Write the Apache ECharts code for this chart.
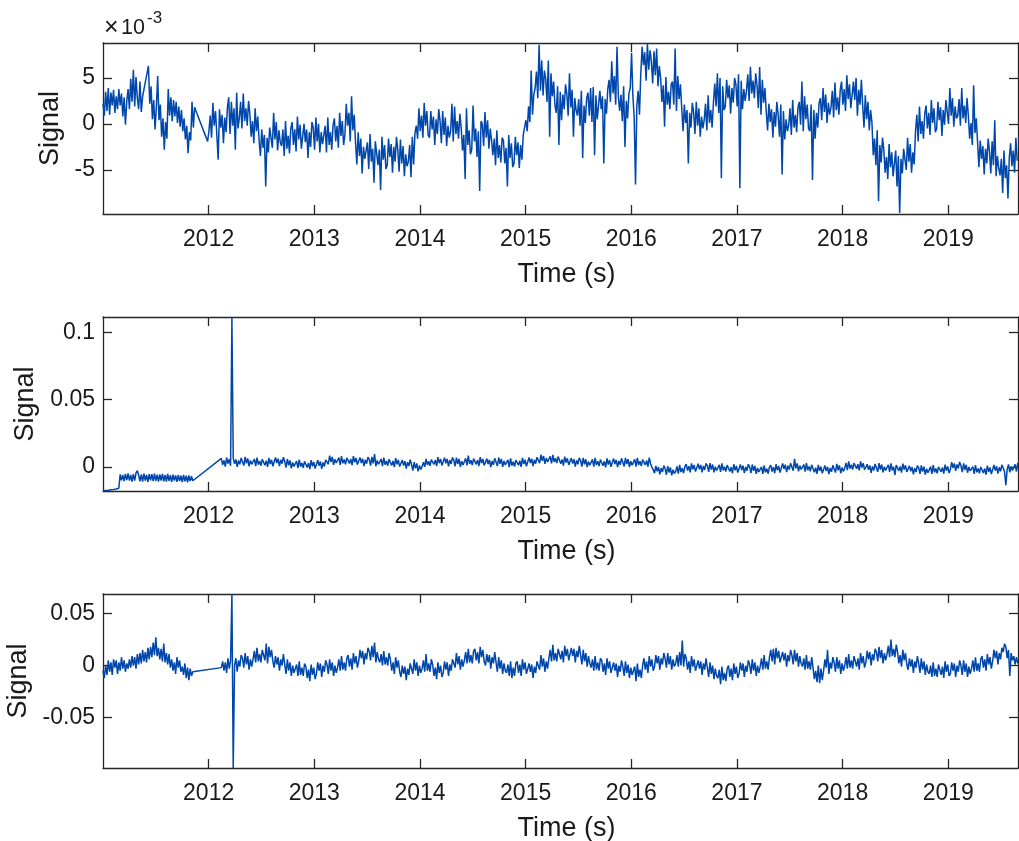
<!DOCTYPE html>
<html>
<head>
<meta charset="utf-8">
<script src="https://cdn.jsdelivr.net/npm/echarts@6/dist/echarts.min.js"></script>
<style>
html,body{margin:0;padding:0;background:#fff;}
#chart{width:1019px;height:841px;}
</style>
</head>
<body>
<div id="chart"></div>
<script>
// ---------------- DATA (all signal values in units of 1e-3) ----------------
const STEP = 0.0125; // sampling step in years
const xTicks = [2012, 2013, 2014, 2015, 2016, 2017, 2018, 2019];
const xMin = 2011.0, xMax = 2019.66;

// Panel 1
const p1Ticks = [-5, 0, 5];
const p1Range = [-9.8, 8.8];
const p1Seg1Start = 2011.0;
const p1Seg1 = [2.2,0.9,3.5,1.4,3.9,1.0,3.4,2.0,3.7,1.2,3.0,1.6,3.8,2.0,3.3,0.8,2.9,-0.1,2.5,3.8,1.6,4.9,2.4,5.9,1.9,5.1,2.8,1.6,4.6,1.3,3.0];
const p1Seg2Start = 2011.43;
const p1Seg2 = [6.3,2.2,4.1,0.5,2.6,-0.6,1.8,5.2,0.4,2.1,-1.4,0.6,-2.8,0.2,-1.6,3.8,0.9,2.9,0.3,2.6,0.8,2.4,0.1,1.9,-0.3,1.5,-0.8,0.6,-1.7,-0.2,-3.2,-0.9,-1.8,2.4,-0.4,1.8,1.4];
const p1Seg3Start = 2011.99;
const p1Seg3 = [
-1.9,-0.8,0.9,-1.5,2.3,-0.2,1.4,-1.2,  -3.9,1.6,-0.4,1.0,-2.1,0.7,-0.9,1.8,  2.9,-1.1,2.4,-0.2,1.7,-2.8,3.4,-0.5,  0.6,2.4,-0.5,3.3,0.3,1.7,-0.2,2.5,
1.1,-1.4,0.3,-2.1,1.7,-0.8,0.8,-1.8,  -3.5,-0.6,-2.6,-1.2,-6.8,-1.5,-3.1,-0.4,  -0.2,-2.6,1.2,-1.7,0.2,-2.9,-0.7,-2.0,  -2.4,-0.6,-3.5,0.3,-2.7,-1.3,-3.2,-0.5,
0.2,-2.3,-0.6,-3.0,0.8,-1.7,-0.1,-2.7,  -2.9,0.0,-2.0,-0.6,-3.7,-0.9,-2.5,0.2,  -0.4,-2.8,0.7,-1.9,0.0,-3.1,-0.9,-2.2,  -2.0,-0.2,-3.1,0.7,-2.3,-0.9,-2.8,-0.1,
0.6,-1.9,-0.2,-2.6,1.2,-1.3,0.3,-2.3,  -1.1,2.2,-0.2,1.2,-1.9,3.0,-0.7,1.0,  -2.0,-4.4,-0.9,-3.5,-1.6,-5.4,-2.5,-3.8,  -3.8,-2.0,-4.9,-1.1,-4.1,-2.7,-6.4,-1.9,
-2.0,-4.5,-2.8,-7.2,-1.4,-3.9,-2.3,-4.9,  -4.5,-1.6,-3.6,-2.2,-5.3,-2.5,-4.1,-1.4,  -2.8,-5.2,-1.7,-4.3,-2.4,-5.7,-3.3,-4.6,  -4.1,-2.3,-5.8,-1.4,-4.4,-1.0,-0.2,-1.6,
1.7,-0.8,0.9,-1.5,2.3,-0.2,1.4,-1.2,  -1.5,1.4,-0.6,0.8,-2.3,0.5,-1.1,1.6,  0.3,-2.1,1.4,-1.2,0.7,-2.4,-0.2,-1.5,  -0.8,2.2,-1.9,1.9,-1.1,0.3,-1.6,1.1,
-0.4,-2.9,-1.2,-6.0,1.7,-2.3,-0.7,-3.3,  -2.8,2.0,-1.9,-0.5,-3.6,-0.8,-7.3,0.3,  0.0,-2.4,1.3,-1.5,0.4,-2.7,-0.5,-1.8,  -3.4,-1.6,-4.5,-0.7,-3.7,-2.3,-4.2,-1.5,
-1.8,-4.3,-2.6,-6.8,-1.2,-3.7,-2.1,-4.7,  -4.3,-1.4,-3.4,-2.0,-4.8,-2.3,-3.9,-1.2,  -1.4,0.4,-0.8,1.9,0.2,5.8,1.0,3.2,  3.9,5.7,2.8,8.6,3.6,6.9,3.1,5.8,
4.9,2.4,6.9,-1.4,5.5,3.0,4.6,2.0,  1.2,4.1,-2.3,3.5,0.4,3.2,1.6,4.3,  3.3,0.9,5.5,1.8,3.7,-1.4,2.8,1.5,  0.9,2.7,-0.2,3.6,-3.7,2.0,0.1,2.8,
3.4,0.9,3.9,0.2,4.0,-3.4,3.1,0.5,  0.7,3.6,1.6,3.0,-4.3,2.7,1.1,3.8,  4.8,2.4,6.8,3.3,5.2,2.1,8.4,3.0,  1.4,3.2,0.3,4.1,-2.5,2.5,0.6,3.3,
3.9,7.7,3.1,0.7,-6.6,2.0,3.6,1.0,  5.5,8.4,6.4,7.8,4.7,8.7,5.9,8.0,  6.8,4.4,7.9,5.3,8.2,4.1,6.3,5.0,  2.4,4.2,-0.3,5.1,2.1,3.5,1.6,4.3,
4.6,2.1,8.2,1.4,5.2,2.7,4.3,1.7,  -0.8,2.1,0.1,1.5,-4.3,1.2,-0.4,2.3,  1.3,-1.1,2.4,-0.2,1.7,-1.4,0.8,-0.5,  0.4,2.2,-0.7,3.1,0.1,1.5,-0.4,2.3,
4.4,1.9,5.5,1.2,5.0,-5.9,4.1,1.5,  1.9,4.8,2.8,4.2,1.1,3.9,2.3,5.0,  4.3,1.9,5.4,-7.0,4.7,1.6,3.8,2.5,  3.6,5.4,2.5,6.2,3.3,4.7,2.8,5.5,
4.2,1.7,6.2,1.0,4.8,2.3,3.9,1.3,  -0.7,2.2,0.2,1.6,-1.5,1.3,-0.3,2.4,  1.0,-1.4,2.1,-5.5,1.4,-1.7,0.5,-0.8,  -0.1,1.7,-1.2,2.6,-0.4,1.0,-0.9,1.8,
2.4,-0.1,4.6,-0.8,3.0,0.5,2.1,-0.5,  -0.8,2.1,-6.1,1.5,-1.6,1.2,-0.4,2.3,  2.8,0.4,3.9,1.3,3.2,0.1,2.3,1.0,  1.8,3.6,0.7,4.5,1.5,2.9,1.0,3.7,
4.6,2.1,3.8,1.4,5.3,2.7,4.3,1.7,  1.7,4.6,2.6,5.0,0.9,3.7,2.1,4.8,  2.0,-0.4,3.1,0.5,2.4,-0.7,1.5,0.2,  -3.4,-1.6,-4.5,-0.7,-8.4,-2.3,-4.2,-1.5,
-2.8,-5.3,-3.6,-6.0,-2.2,-4.7,-3.1,-5.7,  -5.8,-2.9,-6.8,-3.5,-9.7,-3.8,-5.4,-2.7,  -2.6,-5.0,-1.5,-4.1,-2.2,-5.3,-3.1,-4.4,  -0.8,1.0,-1.9,1.9,-1.1,0.3,-1.6,1.1,
2.0,-0.5,1.2,-1.2,2.6,0.1,1.7,-0.9,  -0.5,2.4,0.4,1.8,-1.3,1.5,-0.1,2.6,  2.4,0.0,3.9,0.9,2.8,-0.3,1.9,0.6,  0.9,2.7,-0.2,3.9,0.6,2.0,0.1,2.8,
0.9,-1.6,0.1,-2.3,4.2,-1.0,0.6,-2.0,  -4.7,-1.8,-3.8,-2.4,-5.5,-2.7,-4.3,-1.6,  -3.0,-5.4,-1.9,-4.5,0.4,-5.7,-3.5,-4.8,  -5.6,-3.8,-7.5,-2.9,-5.9,-4.5,-8.1,-3.7,
-2.1,-4.6,-2.9,-5.3,-1.5,-4.0
];

// Panel 2
const p2Ticks = [0, 50, 100];
const p2Range = [-17.9, 111.5];
const p2Seg1Start = 2011.0;
const p2Seg1 = [-17.8,-17.2,-17.6,-16.8,-17.4,-16.6,-17.0,-16.2,-16.8,-15.8,-16.4,-15.4,-15.8,
-5.5,-10.0,-6.0,-10.5,-5.2,-9.8,-4.8,-10.2,  -6.0,-11.0,-5.4,-10.2,-4.5,-2.8,-6.2,-10.8,
-5.6,-10.9,-5.0,-10.1,-6.0,-11.2,-5.3,-9.9,  -5.4,-10.6,-4.9,-10.4,-5.8,-11.0,-5.5,-10.1,
-5.1,-10.7,-5.9,-11.0,-5.2,-10.4,-6.1,-11.2,  -5.7,-10.2,-6.3,-11.1,-5.9,-10.6,-6.5,-11.2,
-6.0,-10.8,-6.5,-11.4,-6.3,-10.5,-6.9,-10.3];
const p2Seg2Start = 2012.12;
const p2Seg2 = [
6.4,1.6,4.9,0.3,7.0,2.5,5.7,0.8,  111.5,6.5,2.4,5.6,0.1,4.8,1.9,6.7,  5.6,1.0,7.4,2.7,6.4,0.5,4.8,1.9,  2.1,5.9,0.6,7.0,1.7,4.5,0.9,5.7,
6.1,1.3,4.6,0.0,6.7,2.2,5.4,0.5,  1.6,7.0,2.9,6.1,0.6,5.3,2.4,7.2,  4.1,-0.5,5.9,1.2,4.9,-1.0,3.3,0.4,  0.6,4.4,-0.9,5.5,0.2,3.0,-0.6,4.2,
4.4,-0.4,2.9,-1.7,5.0,0.5,3.7,-1.2,  -0.4,5.0,0.9,4.1,-1.4,3.3,0.4,5.2,  6.6,2.0,8.4,3.7,7.4,1.5,5.8,2.9,  3.1,6.9,1.6,8.0,2.7,5.5,1.9,6.7,
7.4,2.6,5.9,1.3,8.0,3.5,6.7,1.8,  1.6,7.0,2.9,6.1,0.6,5.3,2.4,7.2,  5.6,1.0,7.4,2.7,9.5,0.5,4.8,1.9,  2.1,5.9,0.6,7.0,1.7,4.5,0.9,5.7,
5.9,1.1,4.4,-0.2,6.5,2.0,5.2,0.3,  -0.2,5.2,1.1,4.3,-1.2,3.5,0.6,5.4,  1.8,-2.8,3.6,-1.1,2.6,-3.3,1.0,-1.9,  0.2,3.6,0.1,6.0,1.5,4.2,0.8,5.4,
6.7,1.9,5.2,0.6,7.3,2.8,6.0,1.1,  1.4,6.8,2.7,5.9,0.4,5.1,2.2,7.0,  5.1,0.5,6.9,2.2,5.9,0.0,4.3,1.4,  2.6,6.4,1.1,8.5,2.2,5.0,1.4,6.2,
6.7,1.9,5.2,0.6,7.3,2.8,6.0,1.1,  0.8,6.2,2.1,5.3,-0.2,4.5,1.6,6.4,  5.2,0.6,7.0,2.3,6.0,0.1,4.4,1.5,  1.4,5.2,-0.1,6.3,1.0,3.8,0.2,5.0,
6.1,1.3,4.6,0.0,6.7,2.2,5.4,0.5,  1.6,7.0,2.9,6.1,0.6,5.3,2.4,7.2,  7.4,2.8,9.2,4.5,8.2,2.3,6.6,3.7,  4.1,7.9,2.6,9.0,3.7,6.5,2.9,7.7,
7.1,2.3,5.6,1.0,7.7,3.2,6.4,1.5,  1.2,6.6,2.5,5.7,0.2,4.9,2.0,6.8,  4.9,0.3,6.7,2.0,5.7,-0.2,4.1,1.2,  1.8,5.6,0.3,6.7,1.4,4.2,0.6,5.4,
5.7,0.9,4.2,-0.4,6.3,1.8,5.0,0.1,  0.8,6.2,2.1,5.3,-0.2,4.5,1.6,6.4,  5.0,0.4,6.8,2.1,5.8,-0.1,4.2,1.3,  1.8,5.6,0.3,6.7,1.4,4.2,0.6,5.4,
6.3,1.5,4.8,0.2,6.9,2.4,-0.2,-2.0,  -4.6,0.8,-3.3,-0.1,-5.6,-0.9,-3.8,1.0,  -1.2,-5.8,0.6,-4.1,-0.4,-6.3,-2.0,-4.9,  -3.4,0.4,-4.9,1.5,-3.8,-1.0,-4.6,0.2,
2.1,-2.7,0.6,-4.0,2.7,-1.8,1.4,-3.5,  -3.0,2.4,-1.7,1.5,-4.0,0.7,-2.2,2.6,  1.0,-3.6,2.8,-1.9,1.8,-4.1,0.2,-2.7,  -2.2,1.6,-3.7,2.7,-2.6,0.2,-3.4,1.4,
1.4,-3.4,-0.1,-4.7,2.0,-2.5,0.7,-4.2,  -3.6,1.8,-2.3,0.9,-4.6,0.1,-2.8,2.0,  0.0,-4.6,1.8,-2.9,0.8,-5.1,-0.8,-3.7,  -3.7,0.1,-5.2,1.2,-4.1,-1.3,-4.9,-0.1,
1.4,-3.4,-0.1,-4.7,2.0,-2.5,0.7,-4.2,  -2.8,2.6,-1.5,1.7,-3.8,0.9,-2.0,2.8,  1.8,-2.8,6.0,-1.1,2.6,-3.3,1.0,-1.9,  -2.0,1.8,-3.5,2.9,-2.4,0.4,-3.2,1.6,
0.9,-3.9,-0.6,-5.2,1.5,-3.0,0.2,-4.7,  -4.4,1.0,-3.1,0.1,-5.4,-0.7,-3.6,1.2,  0.4,-4.2,2.2,-2.5,1.2,-4.7,-0.4,-3.3,  -0.8,3.0,-2.3,4.1,-1.2,1.6,-2.0,2.8,
3.5,-1.3,2.0,-2.6,4.1,-0.4,2.8,-2.1,  -3.4,2.0,-2.1,1.1,-4.4,0.3,-2.6,2.2,  1.0,-3.6,2.8,-1.9,1.8,-4.1,0.2,-2.7,  -2.2,1.6,-3.7,2.7,-2.6,0.2,-6.0,1.4,
1.9,-2.9,0.4,-4.2,2.5,-2.0,1.2,-3.7,  -4.6,0.8,-3.3,-0.1,-5.6,-0.9,-3.8,1.0,  -0.6,-5.2,1.2,-3.5,0.2,-5.7,-1.4,-4.3,  -3.6,0.2,-5.1,1.3,-4.0,-1.2,-4.8,0.0,
1.1,-3.7,-0.4,-5.0,1.7,-2.8,0.4,-4.5,  -1.9,3.5,-0.6,2.6,-2.9,1.8,-1.1,3.7,  0.8,-3.8,2.6,-2.1,1.6,-4.3,0.0,-2.9,  -3.6,0.2,-5.1,1.3,-4.0,-1.2,-4.8,0.0,
0.3,-4.5,-1.2,-5.8,0.9,-3.6,-0.4,-5.3,  -4.0,1.4,-2.7,0.5,-5.0,-0.3,-3.2,1.6,  1.1,-3.5,-13.5,-1.8,1.9,-4.0,0.3,-2.6,  -1.9,1.9,-3.4,3.0
];

// Panel 3
const p3Ticks = [-50, 0, 50];
const p3Range = [-98.4, 68.7];
const p3Seg1Start = 2011.0;
const p3Seg1 = [-5,-12,0,-9,
5,-6,3,-9,6,-2,5,-8,  3,-5,8,-3,5,-6,2,-3,  6,-2,9,0,8,-3,11,1,  12,2,15,4,13,3,17,6,
18,8,22,10,27,9,17,6,  16,4,21,3,12,1,11,-2,  6,-5,3,-8,8,-2,5,-6,  -1,-9,2,-12,-2,-14,-3,-10,
-6];
const p3Seg2Start = 2012.12;
const p3Seg2 = [
-2,4,-5,3,-7,7,-3,5,  68.7,-98.4,0,7,-6,5,-1,10,  7,-2,12,1,9,-4,6,-1,  6,14,3,17,4,11,3,15,
16,5,21,2,18,8,15,4,  -2,9,1,8,-5,6,0,11,  1,-8,6,-5,3,-10,0,-7,  -7,1,-10,4,-9,-2,-10,2,
-1,-12,-4,-15,1,-9,-2,-13,  -8,3,-5,2,-11,0,-6,5,  1,-8,6,-5,3,-10,0,-7,  -2,6,-5,9,-4,3,-5,7,
10,-1,7,-4,12,2,9,-2,  4,15,7,14,1,12,6,17,  14,5,19,8,22,3,13,6,  3,11,0,14,1,8,0,12,
6,-5,3,-8,8,-2,5,-6,  -11,0,-8,-1,-14,-3,-9,2,  1,-8,6,-5,3,-10,0,-7,  -3,5,-6,11,-5,2,-6,6,
1,-10,-2,-13,3,-7,0,-11,  -7,4,-4,3,-10,1,-5,6,  7,-2,12,1,9,-4,6,-1,  5,13,2,16,3,10,2,14,
16,5,13,2,18,8,15,4,  0,11,3,10,-3,8,2,13,  3,-6,8,-3,5,-8,2,-5,  -7,1,-10,4,-12,-2,-10,2,
4,-7,1,-10,6,-4,3,-8,  -9,2,-6,1,-12,-1,-7,4,  5,-4,10,-1,7,-6,4,-3,  7,15,4,20,5,12,4,16,
17,6,14,3,19,9,16,5,  6,17,9,16,3,14,8,19,  10,1,15,4,12,-1,9,2,  -2,6,-5,9,-4,3,-5,7,
5,-6,2,-9,7,-3,4,-7,  -8,3,-5,2,-11,0,-6,5,  -1,-10,4,-7,1,-12,-2,-9,  -9,-1,-15,2,-11,-4,-12,0,
7,-4,4,-7,9,-1,6,-5,  -1,10,2,9,-4,7,1,12,  7,-2,12,1,9,-4,6,-1,  2,10,-1,13,0,24,-1,11,
7,-4,4,-7,9,-1,6,-5,  -6,5,-3,4,-9,2,-4,7,  -2,-11,3,-8,0,-13,-3,-10,  -12,-4,-18,-1,-14,-7,-15,-3,
0,-11,-3,-14,2,-8,-1,-12,  -8,3,-5,2,-11,0,-6,5,  1,-8,6,-5,3,-10,0,-7,  -1,7,-4,10,-3,4,-4,8,
15,4,16,1,17,7,14,3,  2,13,5,12,-1,10,4,15,  10,1,15,4,12,-1,9,2,  -1,7,-4,10,-3,4,-4,8,
-2,-13,-5,-16,0,-17,-3,-14,  -5,6,-2,15,-8,3,-3,8,  3,-6,8,-3,5,-8,2,-5,  0,8,-3,11,-2,5,-3,9,
10,-1,7,-4,12,2,9,-2,  3,14,6,13,0,11,5,16,  13,4,18,7,15,2,12,5,  11,19,8,25,9,16,8,20,
13,2,10,-1,15,5,12,1,  -4,7,-1,6,-7,4,-2,9,  2,-7,7,-4,4,-9,1,-6,  -8,0,-11,3,-10,-3,-11,1,
2,-9,-1,-12,4,-6,1,-10,  -8,3,-5,2,-11,0,-6,5,  0,-9,5,-6,2,-11,-1,-8,  -3,5,-6,8,-5,2,-6,6,
9,-2,6,-5,11,1,8,-3,  4,15,7,14,1,12,6,17,  13,21,18,7,15,-10,12,5,  9,1,8,2
];

// ---------------- BUILD ----------------
function seg(start, vals) {
  return vals.map((v, i) => [Math.round((start + i * STEP) * 100000) / 100000, v]);
}
const p1Data = [].concat(seg(p1Seg1Start, p1Seg1), seg(p1Seg2Start, p1Seg2), seg(p1Seg3Start, p1Seg3));
const p2Data = [].concat(seg(p2Seg1Start, p2Seg1), seg(p2Seg2Start, p2Seg2));
const p3Data = [].concat(seg(p3Seg1Start, p3Seg1), seg(p3Seg2Start, p3Seg2));

const FONT = '"Liberation Sans", Arial, Helvetica, sans-serif';
const AX = '#262626';
const TXT = '#1a1a1a';
const LINE = '#0047ab';

const grids = [
  {left: 103, top: 43, width: 915, height: 171, outerBoundsMode: 'none', containLabel: false},
  {left: 103, top: 317, width: 915, height: 174, outerBoundsMode: 'none', containLabel: false},
  {left: 103, top: 594, width: 915, height: 174, outerBoundsMode: 'none', containLabel: false}
];
const ranges = [p1Range, p2Range, p3Range];
const yTicks = [p1Ticks, p2Ticks, p3Ticks];
const yFormat = [v => String(v), v => String(Math.round(v) / 1000), v => String(Math.round(v) / 1000)];
const nameGaps = [32, 58, 62];
const datas = [p1Data, p2Data, p3Data];

const xAxes = [], yAxes = [], series = [];
function axisLineStyle() { return {show: true, onZero: false, lineStyle: {color: AX, width: 1.3}}; }
function tickStyle(vals) { return {show: true, inside: true, length: 9, customValues: vals, lineStyle: {color: AX, width: 1.3}}; }

grids.forEach((g, i) => {
  xAxes.push({
    type: 'value', gridIndex: i, position: 'bottom', min: xMin, max: xMax,
    axisLine: axisLineStyle(), axisTick: tickStyle(xTicks), splitLine: {show: false},
    axisLabel: {show: true, customValues: xTicks, margin: 14, color: TXT, fontFamily: FONT, fontSize: 23,
      formatter: v => String(Math.round(v))},
    name: 'Time (s)', nameLocation: 'middle', nameGap: 47,
    nameTextStyle: {color: TXT, fontFamily: FONT, fontSize: 27, padding: [0, 0, 0, 12]}
  });
  xAxes.push({
    type: 'value', gridIndex: i, position: 'top', min: xMin, max: xMax,
    axisLine: axisLineStyle(), axisTick: tickStyle(xTicks), splitLine: {show: false},
    axisLabel: {show: false}
  });
  yAxes.push({
    type: 'value', gridIndex: i, position: 'left', min: ranges[i][0], max: ranges[i][1],
    axisLine: axisLineStyle(), axisTick: tickStyle(yTicks[i]), splitLine: {show: false},
    axisLabel: {show: true, customValues: yTicks[i], margin: 8, color: TXT, fontFamily: FONT, fontSize: 23,
      formatter: yFormat[i]},
    name: 'Signal', nameLocation: 'middle', nameGap: nameGaps[i], nameRotate: 90,
    nameTextStyle: {color: TXT, fontFamily: FONT, fontSize: 27}
  });
  yAxes.push({
    type: 'value', gridIndex: i, position: 'right', min: ranges[i][0], max: ranges[i][1],
    axisLine: axisLineStyle(), axisTick: tickStyle(yTicks[i]), splitLine: {show: false},
    axisLabel: {show: false}
  });
  series.push({
    type: 'line', xAxisIndex: i * 2, yAxisIndex: i * 2, data: datas[i],
    showSymbol: false, symbol: 'none', animation: false, clip: true, sampling: null,
    lineStyle: {color: LINE, width: 1.5}
  });
});

const chart = echarts.init(document.getElementById('chart'), null, {renderer: 'canvas'});
chart.setOption({
  backgroundColor: '#ffffff',
  animation: false,
  grid: grids,
  xAxis: xAxes,
  yAxis: yAxes,
  series: series,
  graphic: [
    {type: 'text', left: 104, top: 16, style: {text: '×', font: '25px ' + FONT, fill: TXT}},
    {type: 'text', left: 121, top: 17, style: {text: '10', font: '21.5px ' + FONT, fill: TXT}},
    {type: 'text', left: 147, top: 10, style: {text: '-3', font: '17px ' + FONT, fill: TXT}}
  ]
});
</script>
</body>
</html>
